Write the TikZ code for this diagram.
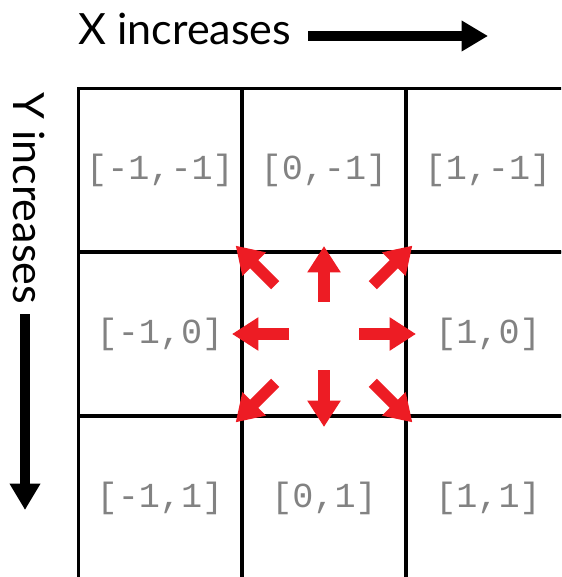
\documentclass[tikz,border=0pt]{standalone}
\usepackage{fontspec}
\setmainfont{Lato}
\setmonofont{Liberation Mono}
\usepackage{xcolor}
\usetikzlibrary{arrows.meta,calc}
\definecolor{moveRed}{RGB}{237,28,36}
\definecolor{idxGray}{RGB}{130,130,130}

\begin{document}
\begin{tikzpicture}[
    x=0.02cm, y=-0.02cm,
    cell/.style={draw, line width=1.7pt, minimum size=3.28cm, inner sep=0pt, text=idxGray, font=\fontsize{20}{24}\selectfont\ttfamily},
    axislabel/.style={inner sep=0pt, font=\fontsize{24.5}{28}\selectfont},
    axisarr/.style={line width=5.8pt, -{Triangle[length=15pt, width=16.5pt]}},
    movearr/.style={line width=6.6pt, moveRed, -{Triangle[length=15pt, width=18pt]}},
  ]
  \clip (0,0) rectangle (561,577);
  % neighbour grid, centre cell left blank
  \foreach \col/\row/\lbl in {-1/-1/{[-1,-1]}, 0/-1/{[0,-1]}, 1/-1/{[1,-1]},
                              -1/0/{[-1,0]}, 0/0/{}, 1/0/{[1,0]},
                              -1/1/{[-1,1]}, 0/1/{[0,1]}, 1/1/{[1,1]}}
    \node[cell] (c\col\row) at ({324+164*\col},{334+164*\row}) {\lbl};
  % moves out of the centre cell
  \foreach \ang/\from/\to in {0/35/92, 90/36/93, 180/35/92, 270/32/88, 45/69/125, 135/69/125, 225/69/125, 315/69/125}
    \draw[movearr] ($(c00)+(\ang:\from)$) -- ($(c00)+(\ang:\to)$);
  % axes
  \node[axislabel, anchor=base west] (xlab) at (78,45) {X increases};
  \coordinate (xtail) at (308,36);
  \coordinate (xhead) at (488,36);
  \draw[axisarr] (xtail) -- (xhead);
  \node[axislabel, anchor=base west, rotate=-90] (ylab) at (13,92) {Y increases};
  \coordinate (ytail) at (25,314);
  \coordinate (yhead) at (25,510);
  \draw[axisarr] (ytail) -- (yhead);
\end{tikzpicture}
\end{document}
